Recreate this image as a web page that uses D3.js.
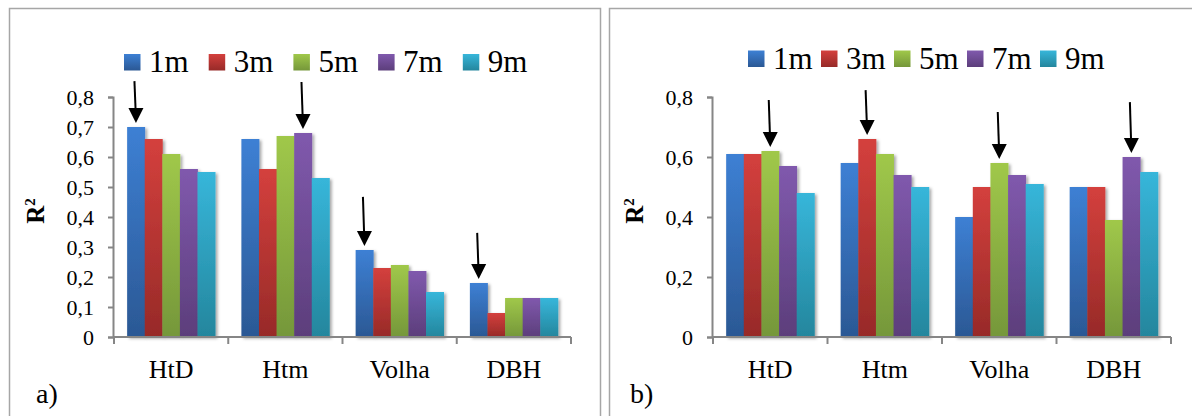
<!DOCTYPE html>
<html>
<head>
<meta charset="utf-8">
<script src="https://cdn.jsdelivr.net/npm/d3@7"></script>
<style>
  html, body { margin: 0; padding: 0; background: #fff; }
  svg { display: block; }
  svg text { font-family: 'Liberation Serif', 'Times New Roman', serif; fill: #000; }
</style>
</head>
<body>
<svg id="chart" width="1192" height="416"></svg>
<script>
// ---------------- DATA ----------------
const categories = ["HtD", "Htm", "Volha", "DBH"];
const seriesNames = ["1m", "3m", "5m", "7m", "9m"];

// panel a) R² values, one array per series (order of categories)
const a_1m = [0.70, 0.66, 0.29, 0.18];
const a_3m = [0.66, 0.56, 0.23, 0.08];
const a_5m = [0.61, 0.67, 0.24, 0.13];
const a_7m = [0.56, 0.68, 0.22, 0.13];
const a_9m = [0.55, 0.53, 0.15, 0.13];

// panel b) R² values
const b_1m = [0.61, 0.58, 0.40, 0.50];
const b_3m = [0.61, 0.66, 0.50, 0.50];
const b_5m = [0.62, 0.61, 0.58, 0.39];
const b_7m = [0.57, 0.54, 0.54, 0.60];
const b_9m = [0.48, 0.50, 0.51, 0.55];

// y tick values / labels
const a_ticks = [0, 0.1, 0.2, 0.3, 0.4, 0.5, 0.6, 0.7, 0.8];
const a_tickLabels = ["0", "0,1", "0,2", "0,3", "0,4", "0,5", "0,6", "0,7", "0,8"];
const b_ticks = [0, 0.2, 0.4, 0.6, 0.8];
const b_tickLabels = ["0", "0,2", "0,4", "0,6", "0,8"];

// arrows: which bar they point at, and the value where the arrow starts
const a_arrowCat = ["HtD", "Htm", "Volha", "DBH"];
const a_arrowSeries = ["1m", "7m", "1m", "1m"];
const a_arrowFrom = [0.853, 0.85, 0.467, 0.347];
const b_arrowCat = ["HtD", "Htm", "Volha", "DBH"];
const b_arrowSeries = ["5m", "3m", "5m", "7m"];
const b_arrowFrom = [0.79, 0.823, 0.75, 0.783];

// ---------------- STYLE ----------------
const colorsTop = ["#3d80d4", "#d4403d", "#a0c84a", "#8059ad", "#37b6da"];
const colorsBot = ["#2b5894", "#972a28", "#75973a", "#5c3e7b", "#24869d"];
const SERIF = "Liberation Serif, Times New Roman, serif";

const svg = d3.select("#chart");
svg.append("rect").attr("width", 1192).attr("height", 416).attr("fill", "#fff");

const defs = svg.append("defs");
seriesNames.forEach((s, i) => {
  const g = defs.append("linearGradient").attr("id", "grad" + i)
    .attr("x1", 0).attr("y1", 0).attr("x2", 0).attr("y2", 1);
  g.append("stop").attr("offset", "0%").attr("stop-color", colorsTop[i]);
  g.append("stop").attr("offset", "100%").attr("stop-color", colorsBot[i]);
});
const f = defs.append("filter").attr("id", "shadow")
  .attr("x", "-20%").attr("y", "-20%").attr("width", "160%").attr("height", "140%");
f.append("feDropShadow").attr("dx", 2).attr("dy", 1.5).attr("stdDeviation", 1.6)
  .attr("flood-color", "#000").attr("flood-opacity", 0.35);

// panel borders
svg.append("rect").attr("x", 9.5).attr("y", 8.5).attr("width", 591).attr("height", 430)
  .attr("fill", "none").attr("stroke", "#a6a6a6").attr("stroke-width", 1.5);
svg.append("rect").attr("x", 609.5).attr("y", 8.5).attr("width", 600).attr("height", 430)
  .attr("fill", "none").attr("stroke", "#a6a6a6").attr("stroke-width", 1.5);

function drawPanel(cfg) {
  const g = svg.append("g").attr("font-family", SERIF);
  const x0 = d3.scaleBand().domain(categories).range([cfg.x0, cfg.x1]).padding(0);
  const gap = x0.bandwidth() * 0.115;
  const x1 = d3.scaleBand().domain(seriesNames).range([gap, x0.bandwidth() - gap]).padding(0);
  const y = d3.scaleLinear().domain([0, 0.8]).range([337, 97]);

  // bars
  cfg.series.forEach((vals, si) => {
    g.append("g").attr("filter", "url(#shadow)")
      .selectAll("rect").data(vals).join("rect")
      .attr("x", (d, ci) => x0(categories[ci]) + x1(seriesNames[si]))
      .attr("y", d => y(d))
      .attr("width", x1.bandwidth() + 0.4)
      .attr("height", d => y(0) - y(d))
      .attr("fill", "url(#grad" + si + ")");
  });

  // y axis
  const yAxis = d3.axisLeft(y).tickValues(cfg.ticks)
    .tickFormat((d, i) => cfg.tickLabels[i]).tickSize(5).tickPadding(14);
  const ya = g.append("g").attr("transform", `translate(${cfg.yAxisX},0)`).call(yAxis)
    .attr("font-family", SERIF).attr("font-size", 22);
  ya.select(".domain").attr("stroke", "#868686").attr("stroke-width", 2);
  ya.selectAll(".tick line").attr("stroke", "#868686").attr("stroke-width", 2);
  ya.selectAll(".tick text").attr("fill", "#000").attr("font-weight", "normal");

  // x axis
  const xAxis = d3.axisBottom(x0).tickSize(0).tickPadding(0);
  const xa = g.append("g").attr("transform", `translate(0,${y(0)})`).call(xAxis)
    .attr("font-family", SERIF).attr("font-size", 26);
  xa.select(".domain").attr("stroke", "#868686").attr("stroke-width", 2)
    .attr("d", `M${cfg.yAxisX},0H${cfg.x1}`);
  xa.selectAll(".tick text").attr("dy", null).attr("y", 41).attr("fill", "#000").attr("font-weight", "normal");
  // category boundary ticks
  const bounds = categories.map(c => x0(c)).concat([cfg.x1]);
  xa.append("g").selectAll("line").data(bounds).join("line")
    .attr("x1", d => d).attr("x2", d => d).attr("y1", 0).attr("y2", 7)
    .attr("stroke", "#868686").attr("stroke-width", 2);

  // y label
  g.append("text").attr("transform", `translate(${cfg.labelX},211) rotate(-90)`)
    .attr("text-anchor", "middle").attr("font-size", 25).attr("font-weight", "bold")
    .html('R<tspan dy="-9" font-size="15">2</tspan>');

  // panel letter
  g.append("text").attr("x", cfg.letterX).attr("y", 403).attr("font-size", 28).text(cfg.letter);

  // legend
  const lg = g.append("g");
  seriesNames.forEach((s, i) => {
    const lx = cfg.legendX + i * cfg.legendStep;
    lg.append("rect").attr("x", lx).attr("y", cfg.legendY).attr("width", 16.5).attr("height", 16.5)
      .attr("fill", "url(#grad" + i + ")");
    lg.append("text").attr("x", lx + 25).attr("y", cfg.legendY + 18)
      .attr("font-size", 31).text(s);
  });

  // arrows
  cfg.arrowCat.forEach((c, i) => {
    const si = seriesNames.indexOf(cfg.arrowSeries[i]);
    const v = cfg.series[si][categories.indexOf(c)];
    const tx = x0(c) + x1(cfg.arrowSeries[i]) + x1.bandwidth() / 2;
    const ty = y(v) - 4;
    const fy = y(cfg.arrowFrom[i]);
    g.append("line").attr("x1", tx - 1.5).attr("y1", fy).attr("x2", tx - 0.3).attr("y2", ty - 12)
      .attr("stroke", "#000").attr("stroke-width", 2);
    g.append("path").attr("d", `M${tx - 7.5},${ty - 15}L${tx + 7.5},${ty - 15}L${tx},${ty}Z`)
      .attr("fill", "#000");
  });
}

drawPanel({
  x0: 114, x1: 571, yAxisX: 113, series: [a_1m, a_3m, a_5m, a_7m, a_9m],
  ticks: a_ticks, tickLabels: a_tickLabels, labelX: 44, letter: "a)", letterX: 36,
  legendX: 124, legendStep: 84.7, legendY: 54,
  arrowCat: a_arrowCat, arrowSeries: a_arrowSeries, arrowFrom: a_arrowFrom
});
drawPanel({
  x0: 713, x1: 1171, yAxisX: 712, series: [b_1m, b_3m, b_5m, b_7m, b_9m],
  ticks: b_ticks, tickLabels: b_tickLabels, labelX: 643, letter: "b)", letterX: 630,
  legendX: 748, legendStep: 73, legendY: 50.5,
  arrowCat: b_arrowCat, arrowSeries: b_arrowSeries, arrowFrom: b_arrowFrom
});
</script>
</body>
</html>
